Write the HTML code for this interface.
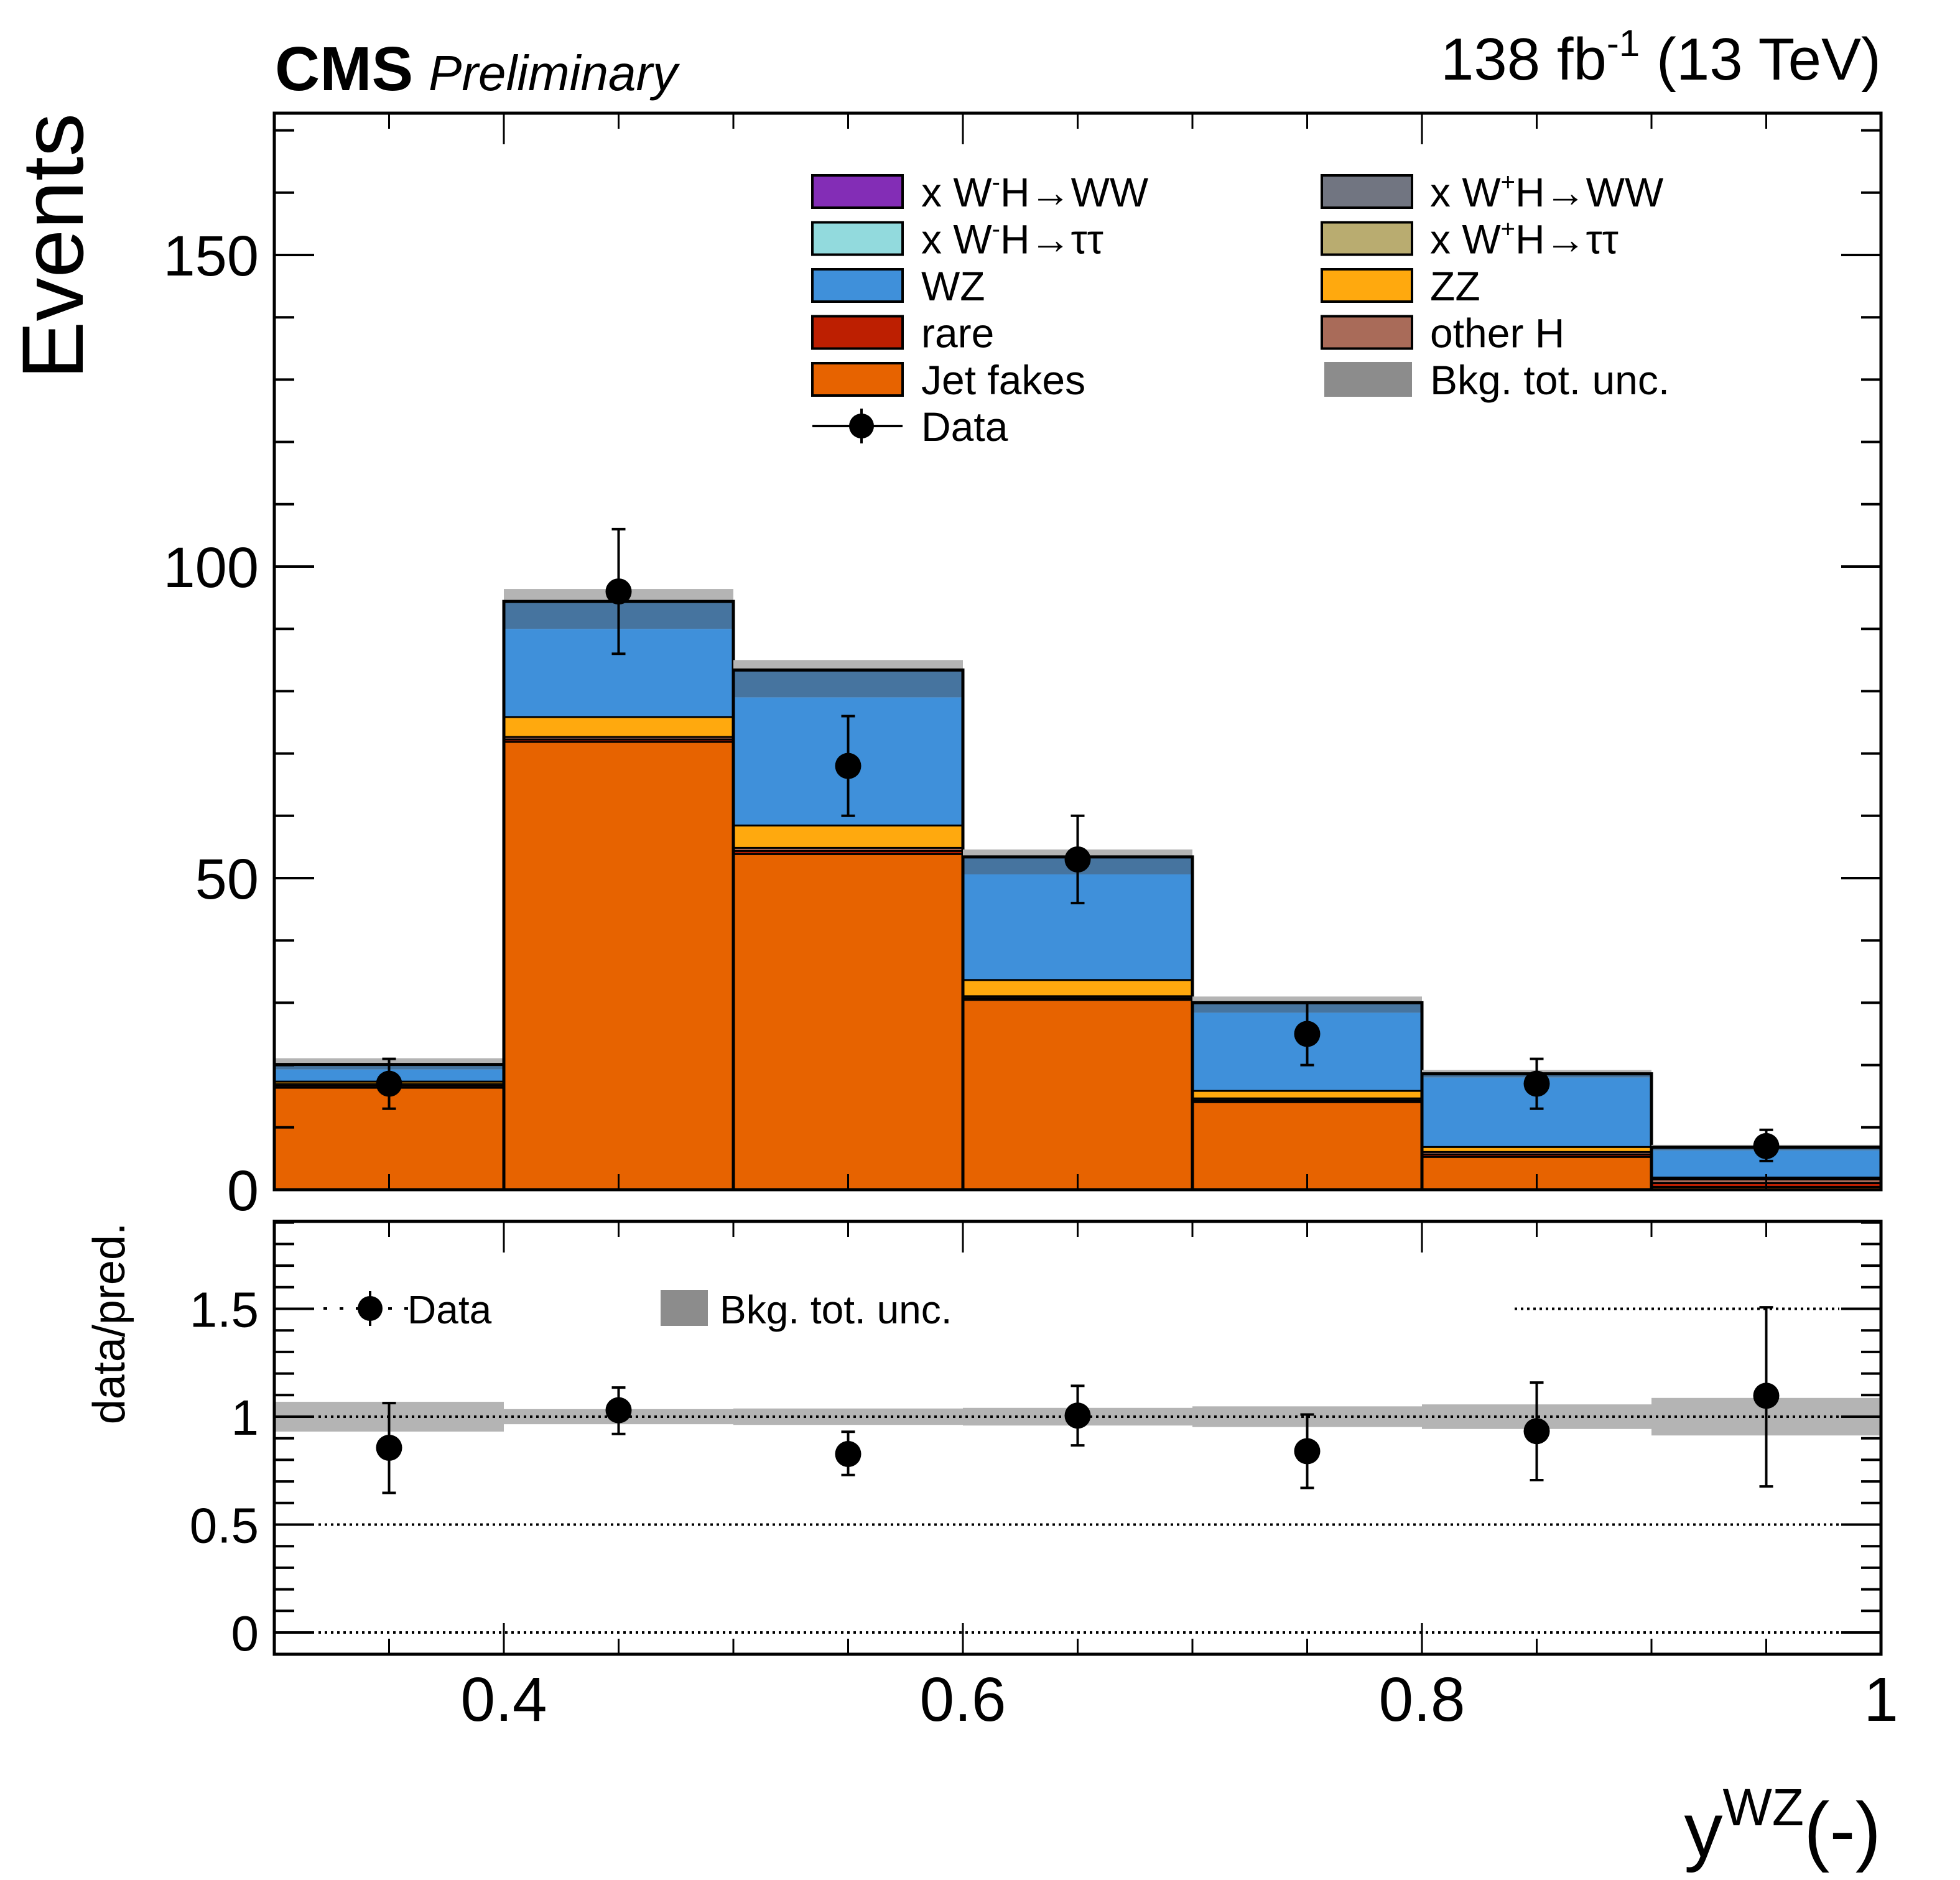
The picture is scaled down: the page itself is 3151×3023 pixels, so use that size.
<!DOCTYPE html>
<html><head><meta charset="utf-8"><style>
html,body{margin:0;padding:0;background:#fff;}
svg{display:block;font-family:"Liberation Sans",sans-serif;}
</style></head><body>
<svg id="c" width="3151" height="3023" viewBox="0 0 3151 3023" xmlns="http://www.w3.org/2000/svg">
<text x="442" y="145" font-size="100" font-weight="bold">CMS</text>
<text x="689" y="145" font-size="80" font-style="italic">Preliminary</text>
<text x="3024" y="128" font-size="96" text-anchor="end">138 fb<tspan dy="-38" font-size="60">-1</tspan><tspan dy="38"> (13 TeV)</tspan></text>
<text transform="translate(133,182) rotate(-90)" font-size="140" text-anchor="end">Events</text>
<text transform="translate(200,1966) rotate(-90)" font-size="72" text-anchor="end">data/pred.</text>
<text x="3024" y="2985" font-size="124" text-anchor="end">y<tspan dy="-50" font-size="84">WZ</tspan><tspan dy="50">(-)</tspan></text>
<g id="main"></g><g id="ratio"></g><g id="legend"></g>
</svg>
<script>
const categories=["0.3-0.4","0.4-0.5","0.5-0.6","0.6-0.7","0.7-0.8","0.8-0.9","0.9-1.0"];
const binEdges=[0.3,0.4,0.5,0.6,0.7,0.8,0.9,1.0];
const jetFakes=[16.5,72,54,30.6,14.2,5.4,0.6];
const rare=[0.3,0.4,0.5,0.3,0.3,0.4,0.6];
const otherH=[0.3,0.4,0.5,0.3,0.3,0.4,0.6];
const zz=[0.4,3.2,3.6,2.6,1.2,0.8,0.3];
const wz=[1.8,14,20.4,16.8,12.4,11,4.2];
const whPlusWW=[0.8,4.4,4.4,2.8,1.6,0.6,0.5];
const bkgUnc=[1.0,2.0,1.6,1.2,1.0,0.6,0.4];
const dataVals=[17,96,68,53,25,17,7];
const dataLo=[13,86,60,46,20,13,4.6];
const dataHi=[21,106,76,60,30,21,9.6];
const ratioVals=[0.856,1.03,0.827,1.005,0.84,0.933,1.097];
const ratioLo=[0.647,0.92,0.73,0.867,0.67,0.706,0.677];
const ratioHi=[1.063,1.135,0.93,1.143,1.01,1.158,1.507];
const ratioUnc=[0.069,0.035,0.038,0.041,0.048,0.057,0.087];
const yTickLabels=["0","50","100","150"];
const rTickLabels=["0","0.5","1","1.5"];
const xTickLabels=["0.4","0.6","0.8","1"];

const NS="http://www.w3.org/2000/svg";
const L=441,R=3024,T=182,B=1913,RT=1964,RB=2660;
const X=v=>L+(v-0.3)/0.7*(R-L);
const Y=v=>B-10.02*v;
const RY=v=>2625-347*v;
function mk(parent,tag,attrs){const e=document.createElementNS(NS,tag);for(const k in attrs)e.setAttribute(k,attrs[k]);parent.appendChild(e);return e;}
const main=document.getElementById('main'),ratio=document.getElementById('ratio'),leg=document.getElementById('legend');

const comps=[[jetFakes,"#e76300","jet-fakes"],[rare,"#bd1f01","rare"],[otherH,"#a96b59","other-h"],[zz,"#ffa90e","zz"],[wz,"#3f90da","wz"],[whPlusWW,"#46749f","wh-plus-ww"]];
for(let i=0;i<categories.length;i++){
  const x0=X(binEdges[i]),x1=X(binEdges[i+1]);let base=0;
  let tot=0;comps.forEach(c=>tot+=c[0][i]);
  let u=mk(main,'rect',{x:x0,y:Y(tot+bkgUnc[i]),width:x1-x0,height:Y(tot)-Y(tot+bkgUnc[i]),fill:'#b4b4b4'});
  
  
  comps.forEach((c,ci)=>{const v=c[0][i];
    let r=mk(main,'rect',{x:x0,y:Y(base+v),width:x1-x0,height:Y(base)-Y(base+v),fill:c[1]});
    
    
    if(ci<4){let ln=mk(main,'line',{x1:x0,x2:x1,y1:Y(base+v),y2:Y(base+v),stroke:'#000','stroke-width':6});
      
      }
    base+=v;});
  let o=mk(main,'path',{d:`M${x0},${B} V${Y(tot)} H${x1} V${B}`,fill:'none',stroke:'#000','stroke-width':5});
  
  
}
let f=mk(main,'rect',{x:L,y:T,width:R-L,height:B-T,fill:'none',stroke:'#000','stroke-width':5});


for(let v=0;v<=170;v+=10){const maj=v%50==0,len=maj?64:32;
  mk(main,'line',{x1:L,x2:L+len,y1:Y(v),y2:Y(v),stroke:'#000','stroke-width':4});
  mk(main,'line',{x1:R-len,x2:R,y1:Y(v),y2:Y(v),stroke:'#000','stroke-width':4});}
yTickLabels.forEach(s=>{let t=mk(main,'text',{x:416,y:Y(+s)+33,'font-size':92,'text-anchor':'end'});t.textContent=s;
  
  });
for(let k=1;k<14;k++){const v=0.3+k*0.05,maj=(k%4==2),len=maj?50:25;
  mk(main,'line',{x1:X(v),x2:X(v),y1:B,y2:B-len,stroke:'#000','stroke-width':3});
  mk(main,'line',{x1:X(v),x2:X(v),y1:T,y2:T+len,stroke:'#000','stroke-width':3});
  mk(ratio,'line',{x1:X(v),x2:X(v),y1:RB,y2:RB-len,stroke:'#000','stroke-width':3});
  mk(ratio,'line',{x1:X(v),x2:X(v),y1:RT,y2:RT+len,stroke:'#000','stroke-width':3});}
for(let i=0;i<categories.length;i++){const cx=X((binEdges[i]+binEdges[i+1])/2);
  mk(main,'line',{x1:cx,x2:cx,y1:Y(dataLo[i]),y2:Y(dataHi[i]),stroke:'#000','stroke-width':4});
  mk(main,'line',{x1:cx-11,x2:cx+11,y1:Y(dataLo[i]),y2:Y(dataLo[i]),stroke:'#000','stroke-width':4});
  mk(main,'line',{x1:cx-11,x2:cx+11,y1:Y(dataHi[i]),y2:Y(dataHi[i]),stroke:'#000','stroke-width':4});
  let p=mk(main,'circle',{cx:cx,cy:Y(dataVals[i]),r:21,fill:'#000'});
  
  }
for(let i=0;i<categories.length;i++){const x0=X(binEdges[i]),x1=X(binEdges[i+1]);
  let b=mk(ratio,'rect',{x:x0,y:RY(1+ratioUnc[i]),width:x1-x0,height:RY(1-ratioUnc[i])-RY(1+ratioUnc[i]),fill:'#b4b4b4'});
  
  }
[0,0.5,1].forEach(v=>mk(ratio,'line',{x1:512,x2:2957,y1:RY(v),y2:RY(v),stroke:'#000','stroke-width':4,'stroke-dasharray':'4 6'}));
mk(ratio,'line',{x1:2435,x2:2957,y1:RY(1.5),y2:RY(1.5),stroke:'#000','stroke-width':4,'stroke-dasharray':'4 6'});
for(let i=0;i<categories.length;i++){const cx=X((binEdges[i]+binEdges[i+1])/2);
  mk(ratio,'line',{x1:cx,x2:cx,y1:RY(ratioLo[i]),y2:RY(ratioHi[i]),stroke:'#000','stroke-width':4});
  mk(ratio,'line',{x1:cx-11,x2:cx+11,y1:RY(ratioLo[i]),y2:RY(ratioLo[i]),stroke:'#000','stroke-width':4});
  mk(ratio,'line',{x1:cx-11,x2:cx+11,y1:RY(ratioHi[i]),y2:RY(ratioHi[i]),stroke:'#000','stroke-width':4});
  let p=mk(ratio,'circle',{cx:cx,cy:RY(ratioVals[i]),r:21,fill:'#000'});
  
  }
let rf=mk(ratio,'rect',{x:L,y:RT,width:R-L,height:RB-RT,fill:'none',stroke:'#000','stroke-width':5});


for(let k=0;k<=19;k++){const v=k/10,maj=k%5==0,len=maj?64:32;
  mk(ratio,'line',{x1:L,x2:L+len,y1:RY(v),y2:RY(v),stroke:'#000','stroke-width':4});
  mk(ratio,'line',{x1:R-len,x2:R,y1:RY(v),y2:RY(v),stroke:'#000','stroke-width':4});}
rTickLabels.forEach(s=>{let t=mk(ratio,'text',{x:416,y:RY(+s)+29,'font-size':80,'text-anchor':'end'});t.textContent=s;
  
  });
xTickLabels.forEach(s=>{let t=mk(ratio,'text',{x:X(+s),y:2767,'font-size':100,'text-anchor':'middle'});t.textContent=s;
  
  });
mk(ratio,'line',{x1:520,x2:660,y1:2104,y2:2104,stroke:'#000','stroke-width':4,'stroke-dasharray':'6 20'});
mk(ratio,'line',{x1:595,x2:595,y1:2076,y2:2132,stroke:'#000','stroke-width':4});
mk(ratio,'circle',{cx:595,cy:2104,r:20,fill:'#000'});
let rl=mk(ratio,'text',{x:655,y:2128,'font-size':64});rl.textContent='Data';


mk(ratio,'rect',{x:1062,y:2074,width:76,height:58,fill:'#8c8c8c'});
let rl2=mk(ratio,'text',{x:1157,y:2128,'font-size':64});rl2.textContent='Bkg. tot. unc.';


const legItems=[[1306,1481,0,"#832db6",'x W<tspan dy="-26" font-size="40">-</tspan><tspan dy="26">H→WW</tspan>'],
[2125,2299,0,"#717581",'x W<tspan dy="-26" font-size="40">+</tspan><tspan dy="26">H→WW</tspan>'],
[1306,1481,1,"#92dadd",'x W<tspan dy="-26" font-size="40">-</tspan><tspan dy="26">H→ττ</tspan>'],
[2125,2299,1,"#b9ac70",'x W<tspan dy="-26" font-size="40">+</tspan><tspan dy="26">H→ττ</tspan>'],
[1306,1481,2,"#3f90da","WZ"],[2125,2299,2,"#ffa90e","ZZ"],
[1306,1481,3,"#bd1f01","rare"],[2125,2299,3,"#a96b59","other H"],
[1306,1481,4,"#e76300","Jet fakes"],[2125,2299,4,"#8c8c8c","Bkg. tot. unc."]];
legItems.forEach((it,i)=>{const cy=308+it[2]*75.5;
  const g=mk(leg,'g',{});
  
  
  if(i==9) mk(g,'rect',{x:it[0]+4,y:cy-28,width:141,height:56,fill:it[3]});
  else mk(g,'rect',{x:it[0],y:cy-26,width:145,height:52,fill:it[3],stroke:'#000','stroke-width':4});
  const t=mk(g,'text',{x:it[1],y:cy+24,'font-size':66});t.innerHTML=it[4];});
const dg=mk(leg,'g',{});


const dy=685;
mk(dg,'line',{x1:1306,x2:1451,y1:dy,y2:dy,stroke:'#000','stroke-width':4});
mk(dg,'line',{x1:1385,x2:1385,y1:dy-28,y2:dy+28,stroke:'#000','stroke-width':4});
mk(dg,'circle',{cx:1385,cy:dy,r:20,fill:'#000'});
const dt=mk(dg,'text',{x:1481,y:dy+24,'font-size':66});dt.textContent='Data';
</script>
</body></html>
